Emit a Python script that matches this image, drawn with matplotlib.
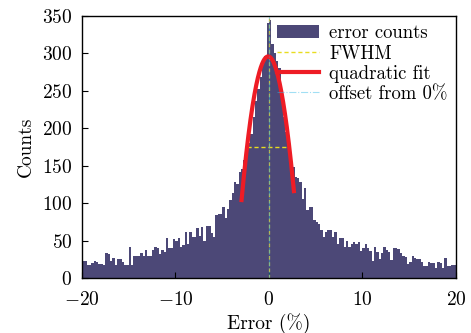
import numpy as np
import matplotlib
matplotlib.use("Agg")
import matplotlib.pyplot as plt

plt.rcParams['font.family'] = 'serif'
plt.rcParams['font.serif'] = ['cmr10', 'DejaVu Serif']
plt.rcParams['mathtext.fontset'] = 'cm'
plt.rcParams['axes.formatter.use_mathtext'] = True

# histogram: bins of 0.25 % from -20 to 20
bin_width = 0.25
bin_start = -20.0
counts_left_far = [23, 23, 17, 17, 20, 23, 21, 19, 19, 18,
                   33, 32, 23, 27, 17, 25, 25, 21, 18, 18,
                   41, 18, 30, 30, 30, 34, 30, 38, 30, 30,
                   38, 42, 40, 32, 38, 35, 54, 40, 40, 52]
counts_left_near = [50, 53, 41, 44, 61, 46, 61, 55, 55, 67, 56,
                    68, 50, 70, 70, 60, 55, 84, 86, 86, 95,
                    80, 92, 104, 113, 128, 126, 141, 146, 158, 168,
                    180, 193, 215, 237, 252, 268, 285, 297, 340]
counts_right_near = [345, 313, 300, 290, 280, 250, 215, 195, 172, 160,
                     148, 135, 133, 128, 105, 120, 91, 95, 95, 78,
                     75, 72, 64, 55, 62, 64, 64, 55, 62, 45,
                     54, 54, 41, 50, 41, 45, 48, 45, 48, 36]
counts_right_far = [40, 45, 40, 36, 23, 41, 35, 25, 34, 41,
                    38, 35, 24, 40, 40, 39, 34, 30, 28, 19,
                    22, 30, 27, 26, 26, 22, 16, 16, 22, 20,
                    20, 13, 22, 20, 13, 27, 16, 16, 17, 17]
counts = counts_left_far + counts_left_near + counts_right_near + counts_right_far
edges = bin_start + bin_width * np.arange(len(counts) + 1)

# quadratic fit parameters
fit_peak = 296.0
fit_center = -0.085
fit_curv = 23.7
fit_range = [-2.93, 2.67]

# FWHM and offset
half_max = 175.0
fwhm_range = [-2.3, 2.0]
offset_x = 0.0

fig = plt.figure(figsize=(4.71, 3.33), dpi=100)
ax = fig.add_axes([0.174, 0.165, 0.794, 0.787])

ax.stairs(counts, edges, fill=True, color='#4C4877', label='error counts')

ax.plot(fwhm_range, [half_max, half_max], color='#E8DC20', ls='--', lw=1.0,
        dashes=(3, 2), label='FWHM')
ax.axvline(offset_x, color='#C8B840', ls='--', lw=0.9, dashes=(3, 2))

xf = np.linspace(fit_range[0], fit_range[1], 200)
yf = fit_peak - fit_curv * (xf - fit_center) ** 2
ax.plot(xf, yf, color='#EE1C25', lw=3, label='quadratic fit')

ax.axvline(offset_x, color='#30B8E8', ls='-.', lw=0.8, alpha=0.45,
           label='offset from 0%')

ax.set_xlim(-20, 20)
ax.set_ylim(0, 350)
ax.set_xticks([-20, -10, 0, 10, 20])
ax.set_yticks(np.arange(0, 351, 50))
ax.tick_params(direction='in', labelsize=14, length=4, width=0.8,
               top=False, right=False)
ax.tick_params(axis='x', pad=9)
ax.tick_params(axis='y', pad=7)
for s in ax.spines.values():
    s.set_linewidth(1.0)
ax.set_xlabel('Error (%)', fontsize=14, labelpad=3)
ax.set_ylabel('Counts', fontsize=14, labelpad=5)

leg = ax.legend(loc='upper right', frameon=False, fontsize=13.5,
                handlelength=2.2, handleheight=0.7, labelspacing=0.12,
                borderaxespad=0.15, borderpad=0.3, handletextpad=0.55)

fig.savefig('out.png', dpi=100)
